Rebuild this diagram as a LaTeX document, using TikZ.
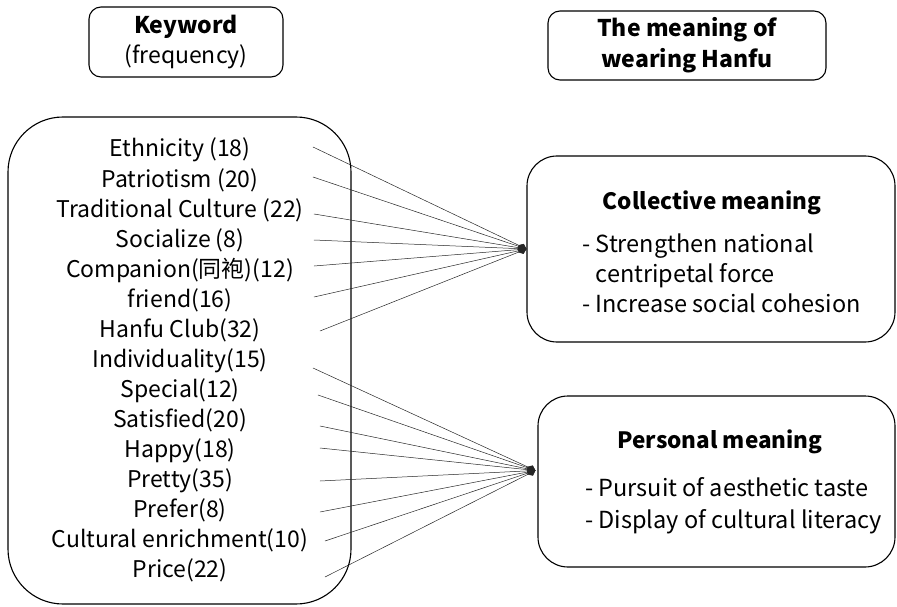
\documentclass[tikz,border=0pt]{standalone}
\usepackage{fontspec}
\setmainfont{Noto Sans CJK KR}
\newfontfamily\cjk{Noto Sans CJK SC}
\usetikzlibrary{arrows.meta}

\begin{document}
\begin{tikzpicture}[x=1pt, y=-1pt, line join=round, line cap=round,
			box/.style={draw, line width=1.1, rounded corners=#1, inner sep=0},
			box/.default=12,
			kw/.style={anchor=base, font=\fontsize{23}{30}\selectfont},
			head/.style={font=\bfseries\fontsize{22.5}{26}\selectfont},
			item/.style={anchor=west, align=left, inner sep=0, font=\fontsize{23.5}{30}\selectfont},
			link/.style={line width=0.5, black!85, -{Diamond[length=9,width=7]}}]
	\useasboundingbox (0,0) rectangle (897,607);
	% titles
	\node[box, minimum width=194, minimum height=70, align=center,
		font=\fontsize{23}{30}\selectfont] (kwtitle) at (186,42) {\textbf{Keyword}\\(frequency)};
	\node[box, minimum width=278, minimum height=69, align=center,
		font=\bfseries\fontsize{23}{31}\selectfont] (mtitle) at (687,45.5) {The meaning of\\wearing Hanfu};
	% keyword list
	\node[box=55, minimum width=343, minimum height=487] (kwbox) at (179.5,360.5) {};
	\foreach \n/\t/\sx/\sy in {1/Ethnicity (18)/313/147, 2/Patriotism (20)/313/177,
		3/Traditional Culture (22)/314/214, 4/Socialize (8)/314/240,
		5/Companion({\cjk 同袍})(12)/314/266, 6/friend(16)/314/297,
		7/Hanfu Club(32)/320/331, 8/Individuality(15)/313/368,
		9/Special(12)/318/395, 10/Satisfied(20)/320/426, 11/Happy(18)/320/448,
		12/Pretty(35)/320/481, 13/Prefer(8)/320/512,
		14/Cultural enrichment(10)/325/541, 15/Price(22)/325/577}
	{\node[kw] (k\n) at (180,{127+30*\n}) {\t};
	 \coordinate (s\n) at (\sx,\sy);}
	% meaning boxes
	\node[box=30, minimum width=368, minimum height=186] (col) at (711,249) {};
	\node[head] (colhead) at (712,203) {Collective meaning};
	\node[item] (coltext) at (582,273) {- Strengthen national\\\hphantom{- }centripetal force\\- Increase social cohesion};
	\node[box=30, minimum width=357, minimum height=171] (per) at (716.5,481.5) {};
	\node[head] (perhead) at (720,442) {Personal meaning};
	\node[item, font=\fontsize{23.5}{32}\selectfont] (pertext) at (585,506) {- Pursuit of aesthetic taste\\- Display of cultural literacy};
	\coordinate (perin) at ([xshift=-2,yshift=11]per.west);
	% links
	\foreach \n in {1,...,7} {\draw[link] (s\n) -- (col.west);}
	\foreach \n in {8,...,15} {\draw[link] (s\n) -- (perin);}
\end{tikzpicture}
\end{document}
